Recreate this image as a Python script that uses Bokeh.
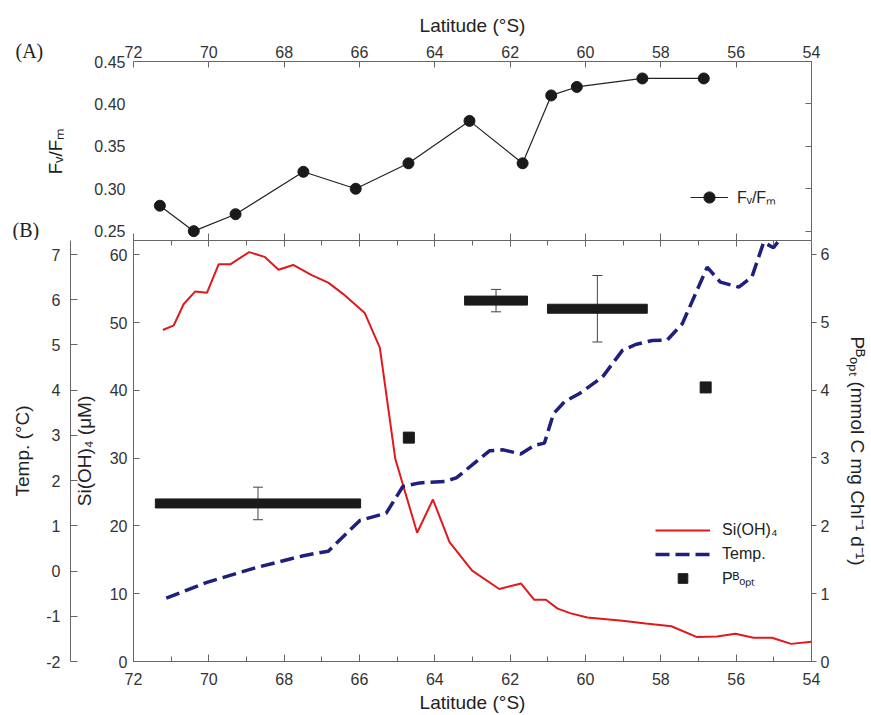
from bokeh.plotting import figure
from bokeh.models import (Range1d, LinearAxis, FixedTicker, SingleIntervalTicker,
                          Legend, LegendItem, Label, ColumnDataSource, Whisker, TeeHead,
                          NumeralTickFormatter)
from bokeh.layouts import column
from bokeh.embed import file_html
from bokeh.resources import INLINE

FONT = "Liberation Sans"
AX = "#666666"
TXT = "#333333"

# ---------------- data ----------------
lat_ticks = [72, 70, 68, 66, 64, 62, 60, 58, 56, 54]
fvfm_ticks = [0.25, 0.30, 0.35, 0.40, 0.45]
si_ticks = [0, 10, 20, 30, 40, 50, 60]
temp_ticks = [-2, -1, 0, 1, 2, 3, 4, 5, 6, 7]
p_ticks = [0, 1, 2, 3, 4, 5, 6]

fvfm_lat = [71.30, 70.40, 69.29, 67.49, 66.10, 64.70, 63.08, 61.67, 60.91, 60.23, 58.49, 56.86]
fvfm_val = [0.28, 0.25, 0.27, 0.32, 0.30, 0.33, 0.38, 0.33, 0.41, 0.42, 0.43, 0.43]

si_lat = [71.22, 70.93, 70.67, 70.36, 70.05, 69.74, 69.43, 68.93, 68.52, 68.15, 67.76,
          67.27, 66.83, 66.43, 65.86, 65.46, 65.05, 64.47, 64.05, 63.61, 63.01, 62.29,
          61.71, 61.36, 61.05, 60.74, 60.39, 59.95, 59.02, 58.40, 57.72, 57.04, 56.51,
          56.02, 55.54, 55.05, 54.54, 54.00]
si_val = [48.9, 49.6, 52.7, 54.6, 54.4, 58.6, 58.6, 60.4, 59.7, 57.8, 58.5,
          57.0, 55.9, 54.2, 51.4, 46.3, 29.9, 19.0, 23.9, 17.6, 13.4, 10.7,
          11.5, 9.1, 9.1, 7.8, 7.1, 6.5, 6.0, 5.6, 5.2, 3.6, 3.7,
          4.1, 3.5, 3.5, 2.6, 2.9]

temp_lat = [71.13, 70.05, 68.73, 67.49, 66.83, 65.99, 65.29, 64.85, 64.40, 63.74, 63.43,
            62.55, 62.18, 61.72, 61.36, 61.09, 60.85, 60.55, 60.17, 59.55, 59.02, 58.67,
            58.23, 57.83, 57.43, 57.08, 56.77, 56.42, 55.93, 55.58, 55.27, 55.01, 54.60]
temp_val = [-0.60, -0.25, 0.08, 0.34, 0.44, 1.12, 1.28, 1.87, 1.95, 1.98, 2.06,
            2.66, 2.68, 2.59, 2.78, 2.83, 3.48, 3.75, 3.92, 4.29, 4.88, 5.01,
            5.10, 5.11, 5.47, 6.13, 6.72, 6.39, 6.28, 6.51, 7.27, 7.15, 7.60]

# P^B_opt samples spanning a latitude band (start, end), mean and error
p_band_start = [71.42, 63.21, 61.01]
p_band_end = [65.97, 61.54, 58.36]
p_band_val = [2.33, 5.32, 5.20]
p_band_err = [0.24, 0.165, 0.49]
# single-station P^B_opt samples
p_pt_lat = [64.69, 56.81]
p_pt_val = [3.30, 4.04]


def style_axis(ax, tick_in=6, tick_out=0, minor_in=0, minor_out=0, standoff=6,
               label_standoff=8):
    ax.axis_line_color = AX
    ax.major_tick_line_color = AX
    ax.minor_tick_line_color = AX
    ax.major_tick_in = tick_in
    ax.major_tick_out = tick_out
    ax.minor_tick_in = minor_in
    ax.minor_tick_out = minor_out
    ax.major_label_text_font = FONT
    ax.major_label_text_font_size = "16px"
    ax.major_label_text_color = TXT
    ax.major_label_standoff = standoff
    ax.axis_label_text_font = FONT
    ax.axis_label_text_font_size = "19px"
    ax.axis_label_text_font_style = "normal"
    ax.axis_label_text_color = "#222222"
    ax.axis_label_standoff = label_standoff


def blank_labels(ax, ticks):
    ax.major_label_overrides = {t: "" for t in ticks}
    ax.major_label_text_font_size = "0px"
    ax.major_label_standoff = 0


x_range = Range1d(72, 54)

# ---------------- panel A ----------------
p1 = figure(width=871, height=240, x_range=x_range, y_range=Range1d(0.2390, 0.45),
            x_axis_location="above", output_backend="svg", toolbar_location=None,
            min_border_left=133, min_border_right=58, min_border_top=61, min_border_bottom=0,
            outline_line_color=None)
p1.grid.visible = False

ax = p1.xaxis[0]
ax.ticker = FixedTicker(ticks=lat_ticks)
style_axis(ax, tick_in=6, standoff=4, label_standoff=7)
ax.axis_label = "Latitude (°S)"

ay = p1.yaxis[0]
ay.ticker = FixedTicker(ticks=fvfm_ticks)
ay.formatter = NumeralTickFormatter(format="0.00")
style_axis(ay, tick_in=0, standoff=8, label_standoff=25)
ay.axis_line_color = None
ay.major_tick_line_color = None
ay.axis_label = "Fᵥ/Fₘ"

ar = LinearAxis(ticker=FixedTicker(ticks=fvfm_ticks))
style_axis(ar, tick_in=6)
blank_labels(ar, fvfm_ticks)
p1.add_layout(ar, "right")

ab = LinearAxis(ticker=FixedTicker(ticks=lat_ticks))
style_axis(ab, tick_in=7)
blank_labels(ab, lat_ticks)
p1.add_layout(ab, "below")

l1 = p1.line(fvfm_lat, fvfm_val, line_color="#222222", line_width=1.2)
s1 = p1.scatter(fvfm_lat, fvfm_val, marker="circle", size=11,
                fill_color="#1a1a1a", line_color="#1a1a1a")

leg1 = Legend(items=[LegendItem(label="Fᵥ/Fₘ", renderers=[l1, s1])],
              location=(557, 29), glyph_width=38, glyph_height=28, label_height=28,
              label_standoff=9, padding=0, margin=0, spacing=0,
              border_line_color=None, background_fill_alpha=0,
              label_text_font=FONT, label_text_font_size="16px", label_text_color="#222222")
p1.add_layout(leg1)

# panel tags, kept in the side panels so that they are not clipped to the frame
p1.add_layout(Label(x=15, y=50, x_units="canvas", y_units="canvas", text="(A)",
                    text_font="Liberation Serif", text_font_size="20px",
                    text_baseline="middle", text_color="#222222"), "left")
p1.add_layout(Label(x=12, y=240, x_units="canvas", y_units="canvas", text="(B)",
                    text_font="Liberation Serif", text_font_size="20px",
                    text_baseline="bottom", text_color="#222222"), "right")

# ---------------- panel B ----------------
p2 = figure(width=871, height=475, x_range=x_range, y_range=Range1d(0, 62.11),
            output_backend="svg", toolbar_location=None,
            min_border_left=133, min_border_right=58, min_border_top=0, min_border_bottom=54,
            outline_line_color=None)
p2.extra_y_ranges = {"temp": Range1d(-2, 7.31), "p": Range1d(0, 6.206)}
p2.grid.visible = False

bx = p2.xaxis[0]
bx.ticker = SingleIntervalTicker(interval=2, num_minor_ticks=2)
style_axis(bx, tick_in=7, minor_in=5, standoff=11, label_standoff=4)
bx.axis_label = "Latitude (°S)"

bt = LinearAxis(ticker=SingleIntervalTicker(interval=2, num_minor_ticks=2))
style_axis(bt, tick_in=6, minor_in=5)
blank_labels(bt, lat_ticks)
p2.add_layout(bt, "above")

by = p2.yaxis[0]
by.ticker = FixedTicker(ticks=si_ticks)
style_axis(by, tick_in=6, standoff=6, label_standoff=12)
by.axis_label = "Si(OH)₄ (μM)"

spacer = LinearAxis(y_range_name="temp", ticker=FixedTicker(ticks=[]), major_tick_out=16,
                    major_tick_in=0, major_tick_line_color=None, minor_tick_line_color=None,
                    axis_line_color=None, major_label_standoff=0)
p2.add_layout(spacer, "left")

tax = LinearAxis(y_range_name="temp", ticker=FixedTicker(ticks=temp_ticks))
style_axis(tax, tick_in=7, standoff=10, label_standoff=10)
tax.major_label_overrides = {-2: "-2", -1: "-1"}
tax.axis_label = "Temp. (°C)"
p2.add_layout(tax, "left")

pax = LinearAxis(y_range_name="p", ticker=FixedTicker(ticks=p_ticks))
style_axis(pax, tick_in=0, tick_out=5, standoff=4, label_standoff=15)
pax.axis_label = "Pᴮₒₚₜ (mmol C mg Chl⁻¹ d⁻¹)"
p2.add_layout(pax, "right")

si_r = p2.line(si_lat, si_val, line_color="#e0191c", line_width=2)
temp_r = p2.line(temp_lat, temp_val, y_range_name="temp", line_color="#1f1f7f",
                 line_width=3.5, line_dash="14 6")

bar_src = ColumnDataSource(dict(
    x=[(a + b) / 2 for a, b in zip(p_band_start, p_band_end)],
    w=[a - b for a, b in zip(p_band_start, p_band_end)],
    y=p_band_val,
    upper=[v + e for v, e in zip(p_band_val, p_band_err)],
    lower=[v - e for v, e in zip(p_band_val, p_band_err)],
))
p2.rect(x="x", y="y", width="w", height=9, height_units="screen", source=bar_src,
        y_range_name="p", fill_color="#1a1a1a", line_color="#1a1a1a")
p2.add_layout(Whisker(base="x", upper="upper", lower="lower", source=bar_src,
                      dimension="height", y_range_name="p", line_color="#444444", line_width=1,
                      upper_head=TeeHead(size=10, line_color="#444444", line_width=1),
                      lower_head=TeeHead(size=10, line_color="#444444", line_width=1)))
pt_r = p2.scatter(p_pt_lat, p_pt_val, y_range_name="p", marker="square", size=11,
                  fill_color="#1a1a1a", line_color="#1a1a1a")

leg2 = Legend(items=[LegendItem(label="Si(OH)₄", renderers=[si_r]),
                     LegendItem(label="Temp.", renderers=[temp_r]),
                     LegendItem(label="Pᴮₒₚₜ", renderers=[pt_r])],
              location=(522, 71), glyph_width=55, glyph_height=24, label_height=24,
              label_standoff=12, padding=0, margin=0, spacing=0,
              border_line_color=None, background_fill_alpha=0,
              label_text_font=FONT, label_text_font_size="16px", label_text_color="#222222")
p2.add_layout(leg2)

layout = column(p1, p2, spacing=0)
open("out.html", "w").write(file_html(layout, INLINE))
